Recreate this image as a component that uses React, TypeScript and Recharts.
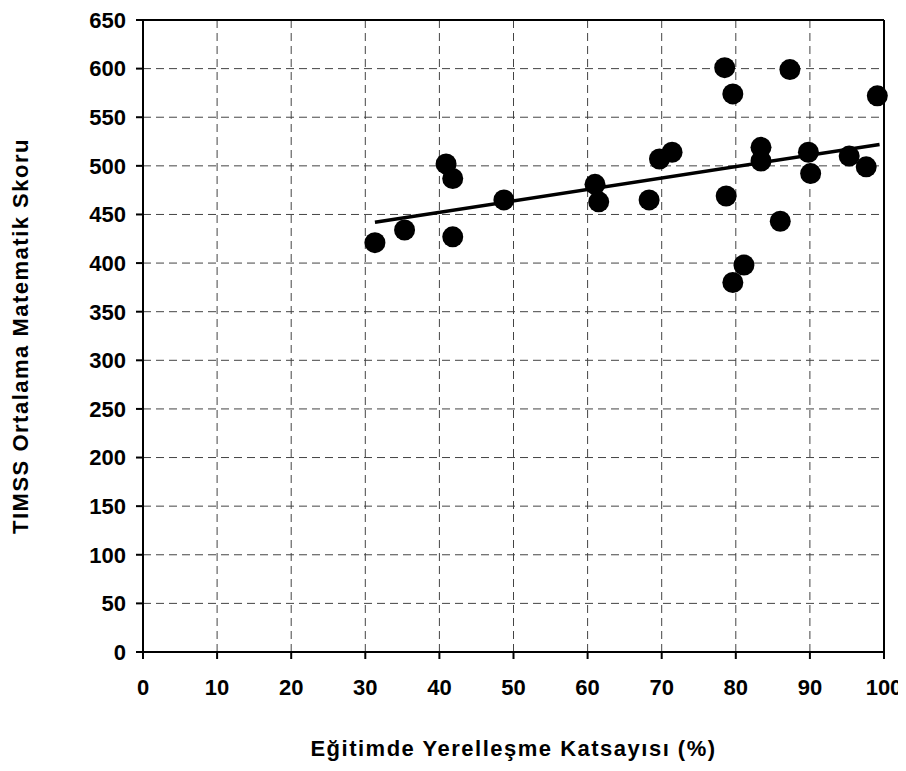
import React from "react";
import {
  ScatterChart,
  Scatter,
  XAxis,
  YAxis,
  CartesianGrid,
  ReferenceLine,
} from "recharts";

// yerellesme katsayisi (%) vs TIMSS matematik skoru
const xValues = [
  31.3, 35.3, 40.9, 41.8, 41.8, 48.7, 61.0, 61.5, 68.3, 69.7, 71.4, 78.5, 79.6,
  78.7, 79.6, 81.1, 83.4, 83.4, 87.3, 86.0, 89.8, 90.1, 95.3, 97.6, 99.1,
];
const yValues = [
  421, 434, 502, 487, 427, 465, 481, 463, 465, 507, 514, 601, 574, 469, 380,
  398, 519, 505, 599, 443, 514, 492, 510, 499, 572,
];
const trendX = [31.3, 99.4];
const trendY = [442, 522];
const xTicks = [0, 10, 20, 30, 40, 50, 60, 70, 80, 90, 100];
const yTicks = [0, 50, 100, 150, 200, 250, 300, 350, 400, 450, 500, 550, 600, 650];

const points = xValues.map((x, i) => ({ x, y: yValues[i] }));
const trend = trendX.map((x, i) => ({ x, y: trendY[i] }));

const font = "'Liberation Sans', Arial, sans-serif";
const tickStyle = { fontSize: 22, fontWeight: 700, fill: "#000", fontFamily: font };
const titleStyle = { ...tickStyle, fontSize: 22, letterSpacing: 1.5 };

const Dot = (props: any) => <circle cx={props.cx} cy={props.cy} r={10.5} fill="#000" />;

export default function App() {
  return (
    <ScatterChart
      width={898}
      height={755}
      margin={{ top: 12, right: 22, left: 0, bottom: 0 }}
    >
      <CartesianGrid stroke="#444" strokeDasharray="8 5" strokeWidth={1} />
      <XAxis
        type="number"
        dataKey="x"
        domain={[0, 100]}
        ticks={xTicks}
        interval={0}
        height={111}
        tick={tickStyle}
        tickSize={7}
        tickMargin={20}
        stroke="#000"
        strokeWidth={2}
        label={{
          content: (p: any) => (
            <text
              x={p.viewBox.x + p.viewBox.width / 2}
              y={742}
              textAnchor="middle"
              dominantBaseline="middle"
              style={titleStyle}
            >
              Eğitimde Yerelleşme Katsayısı (%)
            </text>
          ),
        }}
      />
      <YAxis
        type="number"
        dataKey="y"
        domain={[0, 650]}
        ticks={yTicks}
        interval={0}
        width={135}
        tick={tickStyle}
        tickSize={7}
        tickMargin={10}
        stroke="#000"
        strokeWidth={2}
        label={{
          content: (p: any) => {
            const cy = p.viewBox.y + p.viewBox.height / 2;
            return (
              <text
                x={14}
                y={cy}
                transform={`rotate(-90 14 ${cy})`}
                textAnchor="middle"
                dominantBaseline="middle"
                style={titleStyle}
              >
                TIMSS Ortalama Matematik Skoru
              </text>
            );
          },
        }}
      />
      <ReferenceLine y={650} stroke="#000" strokeWidth={2} />
      <ReferenceLine x={100} stroke="#000" strokeWidth={2} />
      <Scatter
        data={trend}
        line={{ stroke: "#000", strokeWidth: 3.5 }}
        shape={() => <g />}
        isAnimationActive={false}
      />
      <Scatter data={points} shape={Dot} isAnimationActive={false} />
    </ScatterChart>
  );
}
